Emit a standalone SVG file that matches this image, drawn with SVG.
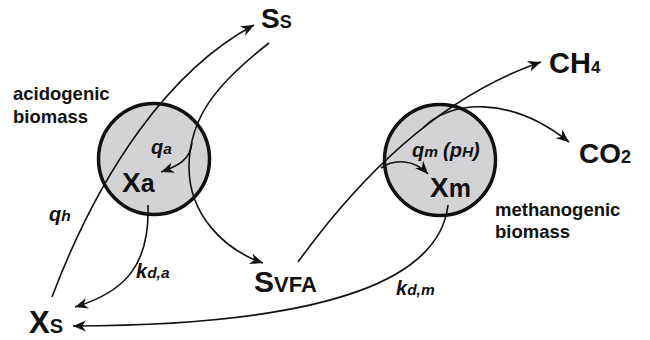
<svg xmlns="http://www.w3.org/2000/svg" width="650" height="340" viewBox="0 0 650 340">
  <defs>
    <marker id="arrow" viewBox="-14 -6.5 15 13" markerWidth="15" markerHeight="13" refX="0" refY="0" markerUnits="userSpaceOnUse" orient="auto">
      <path d="M0,0 L-13,-5.5 L-9,0 L-13,5.5 Z" fill="#111"/>
    </marker>
    <style>
      .cell { fill: #d3d3d5; stroke: #111; stroke-width: 3.5; }
      .big { font-family: "Liberation Sans", Arial, sans-serif; font-weight: bold; fill: #111; font-size: 28px; }
      .sub { font-size: 18px; }
      .lbl { font-family: "Liberation Sans", Arial, sans-serif; font-weight: bold; fill: #111; font-size: 18.5px; }
      .rate { font-family: "Liberation Sans", Arial, sans-serif; font-weight: bold; font-style: italic; fill: #111; font-size: 20px; }
      .rsub { font-size: 15.5px; }
      .link { fill: none; stroke: #111; stroke-width: 1.6; }
      .head { marker-end: url(#arrow); }
    </style>
  </defs>

  <rect width="650" height="340" fill="#fff"/>

  <!-- acidogenic biomass -->
  <g id="node-xa">
    <circle class="cell" cx="154" cy="159" r="55.5"/>
    <text class="big" x="122" y="192">X<tspan style="font-size:25px">a</tspan></text>
    <text class="lbl" x="13" y="100">acidogenic</text>
    <text class="lbl" x="13" y="123">biomass</text>
  </g>

  <!-- methanogenic biomass -->
  <g id="node-xm">
    <circle class="cell" cx="440" cy="160" r="55.5"/>
    <text class="big" x="430" y="197">X<tspan style="font-size:25px">m</tspan></text>
    <text class="lbl" x="495" y="216">methanogenic</text>
    <text class="lbl" x="495" y="238">biomass</text>
  </g>

  <g id="node-ss">
    <text class="big" x="261" y="28">S<tspan class="sub">S</tspan></text>
  </g>

  <g id="node-xs">
    <text class="big" x="29" y="333" style="font-size:31px">X<tspan style="font-size:20px">S</tspan></text>
  </g>

  <g id="node-svfa">
    <text class="big" x="254" y="292" style="font-size:30px">S<tspan style="font-size:22px">VFA</tspan></text>
  </g>

  <g id="node-ch4">
    <text class="big" x="549" y="73" style="font-size:29px">CH<tspan style="font-size:17px">4</tspan></text>
  </g>

  <g id="node-co2">
    <text class="big" x="579" y="163">CO<tspan class="sub">2</tspan></text>
  </g>

  <!-- process arrows -->
  <g id="connectors">
    <!-- hydrolysis: Xs to Ss -->
    <path class="link head" d="M52,297 C100,170 170,70 254,25"/>
    <!-- Ss through acidogens to VFA -->
    <path class="link head" d="M269,43 C215,85 190,118 189,165 C188,215 225,250 263,263"/>
    <path class="link head" d="M192,143 C190,160 178,166 161,172"/>
    <!-- decay of acidogens -->
    <path class="link head" d="M148,205 C150,265 125,292 75,307"/>
    <!-- VFA through methanogens to CH4 / CO2 -->
    <path class="link head" d="M298,262 C350,190 430,100 541,62"/>
    <path class="link head" d="M381,168 C395,158 415,160 428,174"/>
    <path class="link head" d="M423,128 C450,100 510,95 569,142"/>
    <!-- decay of methanogens -->
    <path class="link head" d="M448,205 C440,275 340,325 73,326"/>
  </g>

  <!-- rate labels -->
  <g id="rates">
    <text class="rate" x="151" y="154">q<tspan class="rsub">a</tspan></text>
    <text class="rate" x="49" y="221">q<tspan class="rsub">h</tspan></text>
    <text class="rate" x="136" y="278">k<tspan class="rsub">d,a</tspan></text>
    <text class="rate" x="396" y="295">k<tspan class="rsub">d,m</tspan></text>
    <text class="rate" x="412" y="157">q<tspan class="rsub">m</tspan><tspan x="443">(p</tspan><tspan class="rsub">H</tspan>)</text>
  </g>
</svg>
